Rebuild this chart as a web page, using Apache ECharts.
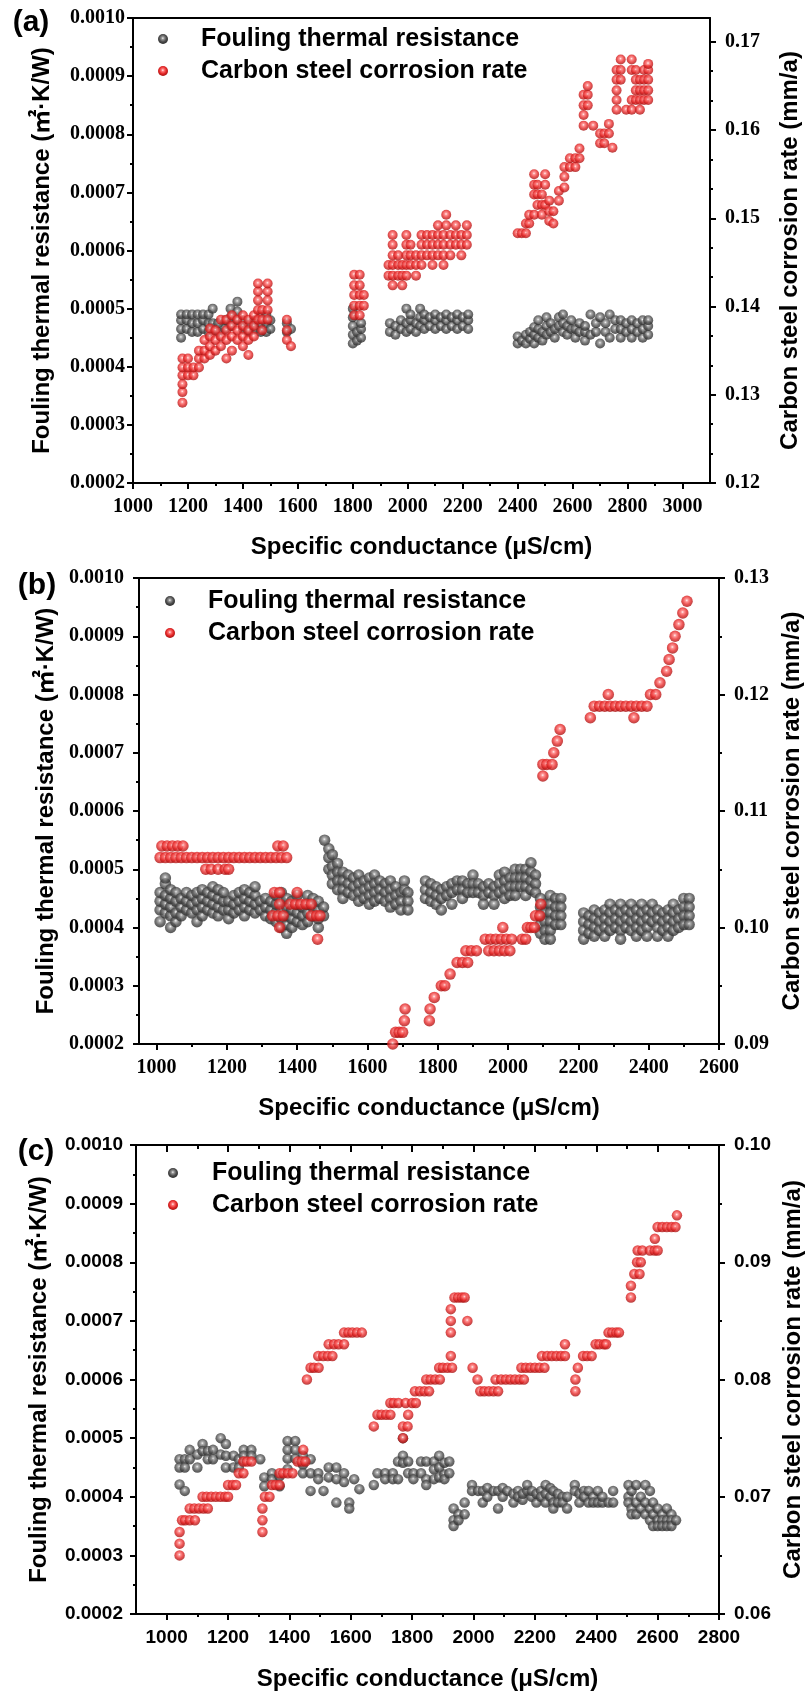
<!DOCTYPE html>
<html>
<head>
<meta charset="utf-8">
<title>Fouling thermal resistance and corrosion rate vs specific conductance</title>
<script src="https://cdn.jsdelivr.net/npm/echarts@6/dist/echarts.min.js"></script>
<style>
  html, body { margin: 0; padding: 0; background: #fff; }
  #main { width: 805px; height: 1695px; }
</style>
</head>
<body>
<div id="main"></div>
<script>
// ---------- tick labels ----------
const xMajorA = [1000, 1200, 1400, 1600, 1800, 2000, 2200, 2400, 2600, 2800, 3000];
const xMinorA = [1100, 1300, 1500, 1700, 1900, 2100, 2300, 2500, 2700, 2900];
const xMajorB = [1000, 1200, 1400, 1600, 1800, 2000, 2200, 2400, 2600];
const xMinorB = [1100, 1300, 1500, 1700, 1900, 2100, 2300, 2500];
const xMajorC = [1000, 1200, 1400, 1600, 1800, 2000, 2200, 2400, 2600, 2800];
const xMinorC = [1100, 1300, 1500, 1700, 1900, 2100, 2300, 2500, 2700];
const leftMajor = [0.0002, 0.0003, 0.0004, 0.0005, 0.0006, 0.0007, 0.0008, 0.0009, 0.0010];
const leftMinor = [0.00025, 0.00035, 0.00045, 0.00055, 0.00065, 0.00075, 0.00085, 0.00095];
const rightMajorA = [0.12, 0.13, 0.14, 0.15, 0.16, 0.17];
const rightMinorA = [0.12333, 0.12667, 0.13333, 0.13667, 0.14333, 0.14667, 0.15333, 0.15667, 0.16333, 0.16667];
const rightMajorB = [0.09, 0.10, 0.11, 0.12, 0.13];
const rightMinorB = [0.095, 0.105, 0.115, 0.125];
const rightMajorC = [0.06, 0.07, 0.08, 0.09, 0.10];
const rightMinorC = [0.065, 0.075, 0.085, 0.095];

// ---------- data (a) : columns [conductance, [values]] ----------
const foulA = [
  [1175, [0.00045, 0.000465, 0.00048, 0.00049]], [1195, [0.000465, 0.00048, 0.00049]],
  [1215, [0.00046, 0.000475, 0.00049]], [1235, [0.00046, 0.000475, 0.00049]],
  [1255, [0.000465, 0.00048, 0.00049]], [1275, [0.00046, 0.000475, 0.00049]],
  [1290, [0.000475, 0.0005]], [1310, [0.00046, 0.000475]], [1335, [0.000465, 0.00048]],
  [1355, [0.00047, 0.000485, 0.0005]], [1380, [0.00048, 0.000495, 0.000512]],
  [1400, [0.000465, 0.00048]], [1420, [0.00046, 0.000475]], [1445, [0.000465, 0.00048]],
  [1465, [0.00046, 0.000475, 0.00049]], [1485, [0.00046, 0.000475, 0.00049]],
  [1500, [0.000465, 0.00048]], [1560, [0.00046, 0.000475]], [1575, [0.000465]],
  [1800, [0.00044, 0.000455, 0.00047, 0.000485, 0.0005]], [1815, [0.000445, 0.00046]],
  [1830, [0.00045, 0.000465, 0.000475]],
  [1935, [0.00046, 0.000475]], [1955, [0.000455, 0.00047]], [1975, [0.000465, 0.00048]],
  [1995, [0.00046, 0.000475, 0.0005]], [2010, [0.000465, 0.00048, 0.00049]],
  [2030, [0.00046, 0.000475]], [2045, [0.00047, 0.000485, 0.0005]],
  [2060, [0.000465, 0.00048, 0.00049]], [2080, [0.00047, 0.000485]],
  [2100, [0.000465, 0.00048, 0.00049]], [2120, [0.00047, 0.000485]],
  [2140, [0.000465, 0.00048, 0.00049]], [2160, [0.00047, 0.000485]],
  [2180, [0.000465, 0.00048, 0.00049]], [2200, [0.00047, 0.000485]],
  [2220, [0.000465, 0.00048, 0.00049]],
  [2400, [0.00044, 0.000452]], [2415, [0.000445]], [2430, [0.00044, 0.000455]],
  [2445, [0.000448, 0.00046]], [2460, [0.00044, 0.000455, 0.000468]],
  [2475, [0.00045, 0.000465, 0.00048]], [2490, [0.000445, 0.00046]],
  [2505, [0.000455, 0.00047, 0.000485]], [2520, [0.00046, 0.000475]],
  [2535, [0.00045, 0.000465]], [2550, [0.00047, 0.000485]],
  [2565, [0.00046, 0.000475, 0.00049]], [2580, [0.000455, 0.00047]],
  [2595, [0.000465, 0.00048]], [2610, [0.00045, 0.000465]], [2625, [0.00046, 0.000475]],
  [2645, [0.000445, 0.00046, 0.00047]], [2665, [0.000455, 0.00049]],
  [2685, [0.00046, 0.000475]], [2700, [0.00044, 0.000485]], [2720, [0.00046, 0.000475]],
  [2735, [0.00045, 0.00049]], [2755, [0.000465, 0.00048]],
  [2775, [0.00045, 0.000465, 0.00048]], [2795, [0.00046, 0.000475]],
  [2815, [0.00045, 0.000465, 0.00048]], [2835, [0.00046, 0.000475]],
  [2855, [0.00045, 0.000465, 0.00048]], [2875, [0.000455, 0.00047, 0.00048]]
];
const corrA = [
  [1180, [0.1291, 0.1303, 0.1312, 0.1322, 0.1331, 0.1341]], [1200, [0.1322, 0.1331, 0.1341]],
  [1220, [0.1322, 0.1331]], [1240, [0.1331, 0.1341, 0.135]], [1260, [0.1341, 0.135, 0.1362]],
  [1280, [0.1345, 0.1355, 0.1366, 0.1375]], [1300, [0.135, 0.1362, 0.1373]],
  [1320, [0.1355, 0.1366, 0.1385]], [1340, [0.1341, 0.1362, 0.1373, 0.1385]],
  [1360, [0.135, 0.1366, 0.1378, 0.139]], [1380, [0.1362, 0.1373, 0.1385]],
  [1400, [0.1355, 0.1366, 0.1378, 0.139]], [1420, [0.1345, 0.1362, 0.1373, 0.1385]],
  [1440, [0.1366, 0.1378, 0.139]], [1455, [0.1385, 0.1396, 0.1407, 0.1417, 0.1426]],
  [1470, [0.1373, 0.1385, 0.1396]], [1490, [0.1385, 0.1396, 0.1407, 0.1417, 0.1426]],
  [1560, [0.1362, 0.1373, 0.1385]], [1575, [0.1355]],
  [1805, [0.139, 0.1401, 0.1413, 0.1424, 0.1436]], [1825, [0.139, 0.1401, 0.1413, 0.1424, 0.1436]],
  [1840, [0.1401, 0.1413]],
  [1930, [0.1435, 0.1447]], [1945, [0.1424, 0.1435, 0.1447, 0.1458, 0.147, 0.1481]],
  [1965, [0.1435, 0.1447, 0.1458]], [1980, [0.1424, 0.1435, 0.1447]],
  [1995, [0.1435, 0.1447, 0.1458, 0.147, 0.1481]], [2010, [0.1447, 0.1458, 0.147]],
  [2030, [0.1435, 0.1447, 0.1458]], [2050, [0.1447, 0.1458, 0.147, 0.1481]],
  [2070, [0.1458, 0.147, 0.1481]], [2090, [0.1447, 0.1458, 0.147, 0.1481]],
  [2110, [0.1458, 0.147, 0.1481, 0.1492]], [2130, [0.1447, 0.1458, 0.147, 0.1481]],
  [2140, [0.1492, 0.1504]], [2155, [0.1458, 0.147, 0.1481]], [2175, [0.147, 0.1481, 0.1492]],
  [2195, [0.1458, 0.147, 0.1481]], [2215, [0.147, 0.1481, 0.1492]],
  [2400, [0.1483]], [2415, [0.1483]], [2430, [0.1483, 0.1494]], [2442, [0.1494, 0.1504]],
  [2460, [0.1504, 0.1527, 0.1538, 0.155]], [2472, [0.1515, 0.1527, 0.1538]],
  [2488, [0.1504, 0.1515, 0.1527]], [2500, [0.1515, 0.1538, 0.155]],
  [2515, [0.1497, 0.1508, 0.152]], [2530, [0.1494, 0.1508]], [2550, [0.152, 0.1531]],
  [2570, [0.1535, 0.1547, 0.1558]], [2590, [0.1558, 0.1568]], [2610, [0.1558, 0.1568]],
  [2625, [0.1568, 0.1579]], [2640, [0.1605, 0.1617, 0.1628, 0.164]],
  [2655, [0.1628, 0.164, 0.165]], [2675, [0.1605]], [2700, [0.1585, 0.1596]],
  [2715, [0.1596, 0.1585]], [2732, [0.1596, 0.1607]], [2745, [0.158]],
  [2760, [0.1623, 0.1634, 0.1645, 0.1657, 0.1668]], [2775, [0.1657, 0.1668, 0.168]],
  [2795, [0.1623]], [2815, [0.1623, 0.1634, 0.1668, 0.168]],
  [2830, [0.1634, 0.1645, 0.1657, 0.1668]], [2845, [0.1623, 0.1634, 0.1645, 0.1657]],
  [2860, [0.1634, 0.1645, 0.1657, 0.1668]], [2875, [0.1634, 0.1645, 0.1657, 0.1668, 0.1675]]
];

// ---------- data (b) ----------
const foulB = [
  [1010, [0.00041, 0.00043, 0.000445, 0.00046]], [1025, [0.000425, 0.00044, 0.000455, 0.000475, 0.000485]],
  [1040, [0.0004, 0.00042, 0.000435, 0.00045, 0.000465]], [1055, [0.00041, 0.000425, 0.000445, 0.00046]],
  [1070, [0.00042, 0.000435, 0.00045]], [1085, [0.00043, 0.000445, 0.00046]],
  [1100, [0.000425, 0.00044, 0.000455]], [1115, [0.00041, 0.00043, 0.000445, 0.00046]],
  [1130, [0.00042, 0.000435, 0.00045, 0.000465]], [1145, [0.00043, 0.000445, 0.00046]],
  [1160, [0.000425, 0.00044, 0.000455, 0.00047]], [1175, [0.00042, 0.000435, 0.00045, 0.000465]],
  [1190, [0.00043, 0.000445, 0.00046]], [1205, [0.000415, 0.00043, 0.000445]],
  [1220, [0.000425, 0.00044, 0.000455]], [1235, [0.00043, 0.000445, 0.00046]],
  [1250, [0.00042, 0.000435, 0.00045, 0.000465]], [1265, [0.00043, 0.000445, 0.00046]],
  [1280, [0.000425, 0.00044, 0.000455, 0.00047]], [1295, [0.00043, 0.000445]],
  [1310, [0.00042, 0.000435, 0.00045]], [1325, [0.000415, 0.00043, 0.000445]],
  [1340, [0.00041, 0.000425, 0.00044, 0.000455]], [1355, [0.0004, 0.000415, 0.00043, 0.000445, 0.00046]],
  [1370, [0.00039, 0.000405, 0.00042, 0.000435, 0.00045]], [1385, [0.0004, 0.000415, 0.00043, 0.000445]],
  [1400, [0.00041, 0.000425, 0.00044, 0.000455]], [1415, [0.000405, 0.00042, 0.000435]],
  [1430, [0.00041, 0.000425, 0.00044, 0.000455]], [1445, [0.00042, 0.000435, 0.00045]],
  [1460, [0.0004, 0.000415, 0.00043, 0.000445]], [1475, [0.00042, 0.000435]],
  [1478, [0.00055]], [1490, [0.000535, 0.00052, 0.0005]],
  [1500, [0.000525, 0.000505, 0.00049, 0.000475]], [1515, [0.00051, 0.000495, 0.00048, 0.000465]],
  [1530, [0.000495, 0.00048, 0.000465, 0.00045]], [1545, [0.00049, 0.000475, 0.00046]],
  [1560, [0.000485, 0.00047, 0.000455]], [1575, [0.00049, 0.000475, 0.00046, 0.000445]],
  [1590, [0.00048, 0.000465, 0.00045]], [1605, [0.000485, 0.00047, 0.000455, 0.00044]],
  [1620, [0.00049, 0.000475, 0.00046, 0.000445]], [1635, [0.00048, 0.000465, 0.00045]],
  [1650, [0.000475, 0.00046, 0.000445]], [1665, [0.00048, 0.000465, 0.00045, 0.000435]],
  [1680, [0.00047, 0.000455, 0.00044]], [1695, [0.00046, 0.000445, 0.00043]],
  [1705, [0.00048, 0.000465]], [1715, [0.00046, 0.000445, 0.00043]],
  [1765, [0.00048, 0.000465, 0.00045]], [1780, [0.000475, 0.00046, 0.000445]],
  [1795, [0.00047, 0.000455, 0.00044]], [1810, [0.000465, 0.00045, 0.00043]],
  [1825, [0.00047, 0.000455]], [1840, [0.000475, 0.00046, 0.00044]], [1855, [0.00048, 0.000465]],
  [1870, [0.00048, 0.000465, 0.00045]], [1885, [0.000475, 0.00046]],
  [1900, [0.00049, 0.000475, 0.00046]], [1915, [0.000475, 0.00046]],
  [1930, [0.00047, 0.000455, 0.00044]], [1945, [0.000475, 0.00046]],
  [1960, [0.00047, 0.000455, 0.00044]], [1975, [0.00049, 0.000475, 0.00046]],
  [1990, [0.000495, 0.00048, 0.000465, 0.00045]], [2005, [0.000485, 0.00047, 0.000455]],
  [2020, [0.0005, 0.000485, 0.00047, 0.000455]], [2035, [0.0005, 0.000485, 0.00047]],
  [2050, [0.0005, 0.000485, 0.00047, 0.000455]], [2065, [0.000511, 0.000495, 0.00048, 0.000465]],
  [2078, [0.00049, 0.000475, 0.00046]],
  [2092, [0.00045, 0.000435, 0.00042, 0.000405, 0.00039]],
  [2105, [0.00044, 0.000425, 0.00041, 0.000395, 0.00038]],
  [2120, [0.000455, 0.00044, 0.000425, 0.00041, 0.000395, 0.00038]],
  [2135, [0.00045, 0.000435, 0.00042, 0.000405]], [2150, [0.00045, 0.000435, 0.00042, 0.000405]],
  [2215, [0.000425, 0.00041, 0.000395, 0.00038]], [2230, [0.00042, 0.000405, 0.00039]],
  [2245, [0.00043, 0.000415, 0.0004, 0.000385]], [2260, [0.000425, 0.00041, 0.000395]],
  [2275, [0.00043, 0.000415, 0.0004, 0.000385]], [2290, [0.00044, 0.000425, 0.00041, 0.000395]],
  [2305, [0.00043, 0.000415, 0.0004]], [2320, [0.00044, 0.000425, 0.00041, 0.000395, 0.00038]],
  [2335, [0.00043, 0.000415, 0.0004]], [2350, [0.00044, 0.000425, 0.00041, 0.000395]],
  [2365, [0.00043, 0.000415, 0.0004, 0.000385]], [2380, [0.00044, 0.000425, 0.00041, 0.000395]],
  [2395, [0.00043, 0.000415, 0.0004, 0.000385]], [2410, [0.00044, 0.000425, 0.00041]],
  [2425, [0.00043, 0.000415, 0.0004, 0.000385]], [2440, [0.000425, 0.00041, 0.000395]],
  [2455, [0.00043, 0.000415, 0.0004, 0.000385]], [2470, [0.00044, 0.000425, 0.00041, 0.000395]],
  [2485, [0.00043, 0.000415, 0.0004]], [2500, [0.00045, 0.000435, 0.00042, 0.000405]],
  [2515, [0.00045, 0.000435, 0.00042, 0.000405]]
];
// rows [corrosion rate, [conductances]]
const corrB = [
  [0.107, [1015, 1030, 1045, 1060, 1075, 1345, 1360]],
  [0.106, [1010, 1025, 1040, 1055, 1070, 1085, 1100, 1115, 1130, 1145, 1160, 1175, 1190, 1205,
           1220, 1235, 1250, 1265, 1280, 1295, 1310, 1325, 1340, 1355, 1370]],
  [0.105, [1140, 1155, 1175, 1195, 1205]],
  [0.103, [1335, 1350, 1400]],
  [0.102, [1350, 1380, 1395, 1410, 1425, 1440]],
  [0.101, [1330, 1345, 1360, 1440, 1455, 1465]],
  [0.100, [1350, 1985, 2055, 2065, 2075]],
  [0.099, [1458, 1935, 1950, 1965, 1980, 1995, 2010, 2040, 2050]],
  [0.098, [1880, 1895, 1910, 1945, 1960, 1975, 1990, 2005]],
  [0.097, [1855, 1870, 1885]],
  [0.096, [1835]],
  [0.095, [1810, 1820]],
  [0.094, [1790]],
  [0.093, [1707, 1778]],
  [0.092, [1705, 1776]],
  [0.091, [1680, 1690, 1700]],
  [0.090, [1672]],
  [0.101, [2078, 2090]],
  [0.102, [2093]],
  [0.113, [2099]],
  [0.114, [2099, 2110, 2125]],
  [0.115, [2130]],
  [0.116, [2140]],
  [0.117, [2148]],
  [0.118, [2234, 2358]],
  [0.119, [2245, 2260, 2275, 2290, 2305, 2320, 2335, 2350, 2365, 2380, 2395]],
  [0.120, [2285, 2405, 2420]],
  [0.121, [2432]],
  [0.122, [2451]],
  [0.123, [2458]],
  [0.124, [2468]],
  [0.125, [2475]],
  [0.126, [2486]],
  [0.127, [2497]],
  [0.128, [2509]]
];

// ---------- data (c) ----------
const foulC = [
  [1042, [0.000464, 0.00045, 0.000421]], [1059, [0.000464, 0.00045, 0.00041]],
  [1075, [0.00048, 0.000464]], [1100, [0.000472, 0.00045]], [1117, [0.00049, 0.000478]],
  [1134, [0.000478, 0.000464]], [1151, [0.00048, 0.000464]], [1176, [0.0005, 0.000472]],
  [1193, [0.00049, 0.00047, 0.00045]], [1218, [0.00047, 0.00045]], [1235, [0.000464, 0.00045]],
  [1251, [0.00048, 0.00047]], [1276, [0.00048, 0.00047]], [1305, [0.000464]],
  [1318, [0.000433, 0.000418]], [1343, [0.00044, 0.00043]], [1368, [0.000435, 0.000418]],
  [1394, [0.000495, 0.00048, 0.000465, 0.000447]], [1419, [0.000495, 0.00048, 0.000465]],
  [1444, [0.00047, 0.000455, 0.00044]], [1469, [0.000464, 0.00044, 0.00041]],
  [1494, [0.00044, 0.00043]], [1511, [0.00041]], [1528, [0.00045, 0.000433]],
  [1553, [0.00045, 0.00043, 0.00039]], [1578, [0.00044, 0.000425]], [1595, [0.00039, 0.00038]],
  [1611, [0.00043]], [1628, [0.000413]],
  [1675, [0.00042]], [1687, [0.00044]], [1712, [0.00044, 0.00043]], [1737, [0.00044, 0.00043]],
  [1754, [0.00046, 0.00043]], [1770, [0.0005, 0.00047, 0.000458]], [1787, [0.00046, 0.00044]],
  [1804, [0.00044, 0.00043]], [1829, [0.00046, 0.00044]], [1846, [0.00046, 0.00043, 0.00042]],
  [1871, [0.00046, 0.000447, 0.00043]], [1888, [0.00047, 0.00045, 0.000433]],
  [1905, [0.000458, 0.000438, 0.00043]], [1921, [0.00046, 0.00044]],
  [1935, [0.00038, 0.00036, 0.00035]], [1951, [0.00037, 0.00036]], [1971, [0.00039, 0.00037]],
  [1995, [0.00042, 0.00041]], [2015, [0.00041]], [2030, [0.00041, 0.00039]],
  [2045, [0.000415, 0.0004]], [2065, [0.00041]], [2080, [0.00041, 0.00038]],
  [2095, [0.000415, 0.0004]], [2110, [0.00041]], [2130, [0.000405, 0.00039]],
  [2145, [0.00041, 0.0004]], [2160, [0.000395, 0.000405]], [2175, [0.00041, 0.00042]],
  [2190, [0.0004, 0.00041]], [2205, [0.00039, 0.000405]], [2220, [0.00041, 0.0004]],
  [2235, [0.00042, 0.000405, 0.00039]], [2250, [0.000415, 0.0004]],
  [2260, [0.00041, 0.00039, 0.00038]], [2275, [0.000405, 0.00039]], [2290, [0.0004, 0.00039]],
  [2305, [0.0004, 0.00038]], [2330, [0.00042, 0.00041]], [2345, [0.000405, 0.00039]],
  [2360, [0.00041, 0.0004]], [2375, [0.00041, 0.00039]], [2390, [0.0004, 0.00039]],
  [2405, [0.00041, 0.00039]], [2420, [0.00039, 0.0004]], [2440, [0.00039]], [2455, [0.00041, 0.00039]],
  [2505, [0.00042, 0.0004, 0.00039]], [2515, [0.00041, 0.00038, 0.00037]],
  [2530, [0.00042, 0.00039, 0.00037]], [2545, [0.0004, 0.00038]],
  [2560, [0.00042, 0.00039, 0.00037]], [2575, [0.00041, 0.00038, 0.00036]],
  [2585, [0.00039, 0.00037, 0.00035]], [2600, [0.00038, 0.00036, 0.00035]],
  [2615, [0.00037, 0.00036, 0.00035]], [2630, [0.00038, 0.00036, 0.00035]],
  [2645, [0.00037, 0.00036, 0.00035]], [2660, [0.00036]]
];
const corrC = [
  [0.065, [1042]], [0.066, [1042]], [0.067, [1042, 1312]],
  [0.068, [1050, 1060, 1075, 1092, 1312]],
  [0.069, [1075, 1090, 1105, 1120, 1134, 1312]],
  [0.070, [1117, 1130, 1145, 1160, 1175, 1190, 1200, 1320, 1335]],
  [0.071, [1200, 1215, 1226, 1343, 1355, 1368]],
  [0.072, [1235, 1250, 1368, 1380, 1395, 1410]],
  [0.073, [1250, 1262, 1276, 1427, 1440, 1452]],
  [0.074, [1445]], [0.075, [1770]],
  [0.076, [1675, 1770, 1785]],
  [0.077, [1687, 1700, 1715, 1729, 1787]],
  [0.078, [1729, 1740, 1755, 1779, 1800, 1812]],
  [0.079, [1809, 1825, 1840, 1855, 2022, 2035, 2050, 2065, 2080, 2332]],
  [0.080, [1457, 1846, 1860, 1875, 1890, 2013, 2072, 2090, 2105, 2120, 2135, 2150, 2164, 2332]],
  [0.081, [1469, 1480, 1495, 1888, 1900, 1915, 1930, 1997, 2156, 2170, 2185, 2200, 2215, 2231, 2340]],
  [0.082, [1494, 1510, 1525, 1540, 1926, 2223, 2240, 2255, 2270, 2285, 2298, 2357, 2370, 2385]],
  [0.083, [1528, 1545, 1560, 1578, 2298, 2398, 2410, 2425, 2432]],
  [0.084, [1578, 1592, 1605, 1620, 1636, 1926, 2440, 2452, 2465, 2474]],
  [0.085, [1926, 1980]], [0.086, [1926]],
  [0.087, [1938, 1950, 1962, 1971, 2513]], [0.088, [2513]],
  [0.089, [2524, 2541]], [0.090, [2533, 2545]],
  [0.091, [2535, 2550, 2575, 2590, 2600]], [0.092, [2591]],
  [0.093, [2600, 2615, 2630, 2645, 2658]], [0.094, [2663]]
];

// ---------- helpers ----------
const fromColumns = cols => cols.flatMap(([x, ys]) => ys.map(y => [x, y]));
const fromRows = rows => rows.flatMap(([y, xs]) => xs.map(x => [x, y]));

const grayBall = {
  type: 'radial', x: 0.48, y: 0.42, r: 0.58,
  colorStops: [
    { offset: 0, color: '#f4f4f4' },
    { offset: 0.22, color: '#9a9a9a' },
    { offset: 0.6, color: '#505050' },
    { offset: 1, color: '#2a2a2a' }
  ]
};
const redBall = {
  type: 'radial', x: 0.48, y: 0.42, r: 0.58,
  colorStops: [
    { offset: 0, color: '#fff4f4' },
    { offset: 0.22, color: '#ff7b7b' },
    { offset: 0.6, color: '#e62a2a' },
    { offset: 1, color: '#a51010' }
  ]
};

const SANS = '"Liberation Sans", Arial, "Noto Sans CJK SC", sans-serif';
const SERIF = '"Liberation Serif", "Times New Roman", serif';

const panels = [
  { tag: '(a)', tagPos: [31, 23],
    grid: { left: 133, top: 18, width: 577, height: 465 },
    xMin: 1000, xMax: 3100, xMajor: xMajorA, xMinor: xMinorA,
    rMin: 0.12, rMax: 0.1727, rMajor: rightMajorA, rMinor: rightMinorA,
    font: SERIF, fontSize: 20, leftMargin: 8, topTicks: false, size: 10,
    foul: fromColumns(foulA), corr: fromColumns(corrA),
    legend: [163, 39, 201], xTitleY: 547, leftTitleX: 42, rightTitleX: 790 },
  { tag: '(b)', tagPos: [37, 586],
    grid: { left: 139, top: 578, width: 580, height: 466 },
    xMin: 950, xMax: 2600, xMajor: xMajorB, xMinor: xMinorB,
    rMin: 0.09, rMax: 0.13, rMajor: rightMajorB, rMinor: rightMinorB,
    font: SERIF, fontSize: 20, leftMargin: 15, topTicks: false, size: 11.5,
    foul: fromColumns(foulB), corr: fromRows(corrB),
    legend: [170, 601, 208], xTitleY: 1108, leftTitleX: 46, rightTitleX: 792 },
  { tag: '(c)', tagPos: [36, 1152],
    grid: { left: 136, top: 1145, width: 583, height: 469 },
    xMin: 900, xMax: 2800, xMajor: xMajorC, xMinor: xMinorC,
    rMin: 0.06, rMax: 0.10, rMajor: rightMajorC, rMinor: rightMinorC,
    font: SANS, fontSize: 19, leftMargin: 13, topTicks: true, size: 10.5,
    foul: fromColumns(foulC), corr: fromRows(corrC),
    legend: [173, 1173, 212], xTitleY: 1679, leftTitleX: 39, rightTitleX: 793 }
];

const option = { animation: false, grid: [], xAxis: [], yAxis: [], series: [], graphic: [] };
const black = { color: '#000', width: 2 };

panels.forEach((p, i) => {
  option.grid.push(Object.assign({ containLabel: false, outerBoundsMode: 'none' }, p.grid));
  const lab = { fontFamily: p.font, fontWeight: 'bold', fontSize: p.fontSize, color: '#000' };
  const xi = option.xAxis.length;
  const yi = option.yAxis.length;
  const xBase = { gridIndex: i, type: 'value', min: p.xMin, max: p.xMax, splitLine: { show: false } };

  // bottom axis: labels + major ticks, then minor ticks
  option.xAxis.push(Object.assign({}, xBase, {
    position: 'bottom',
    axisLine: { onZero: false, lineStyle: black },
    axisTick: { length: 6, lineStyle: black, customValues: p.xMajor },
    axisLabel: Object.assign({ margin: 14, customValues: p.xMajor, formatter: v => String(v) }, lab)
  }));
  option.xAxis.push(Object.assign({}, xBase, {
    position: 'bottom',
    axisLine: { show: false, onZero: false },
    axisTick: { length: 3, lineStyle: black, customValues: p.xMinor },
    axisLabel: { show: false }
  }));
  // top frame line (ticks inside only on panel c)
  option.xAxis.push(Object.assign({}, xBase, {
    position: 'top',
    axisLine: { onZero: false, lineStyle: black },
    axisTick: { show: p.topTicks, inside: true, length: 7, lineStyle: black, customValues: p.xMajor },
    axisLabel: { show: false }
  }));
  option.xAxis.push(Object.assign({}, xBase, {
    position: 'top',
    axisLine: { show: false, onZero: false },
    axisTick: { show: p.topTicks, inside: true, length: 4, lineStyle: black, customValues: p.xMinor },
    axisLabel: { show: false }
  }));

  // left axis
  const yLeft = { gridIndex: i, type: 'value', min: 0.0002, max: 0.0010, splitLine: { show: false } };
  option.yAxis.push(Object.assign({}, yLeft, {
    position: 'left',
    axisLine: { onZero: false, lineStyle: black },
    axisTick: { length: 6, lineStyle: black, customValues: leftMajor },
    axisLabel: Object.assign({ margin: p.leftMargin, customValues: leftMajor, formatter: v => v.toFixed(4) }, lab)
  }));
  option.yAxis.push(Object.assign({}, yLeft, {
    position: 'left',
    axisLine: { show: false, onZero: false },
    axisTick: { length: 3, lineStyle: black, customValues: leftMinor },
    axisLabel: { show: false }
  }));
  // right axis
  const yRight = { gridIndex: i, type: 'value', min: p.rMin, max: p.rMax, splitLine: { show: false } };
  option.yAxis.push(Object.assign({}, yRight, {
    position: 'right',
    axisLine: { onZero: false, lineStyle: black },
    axisTick: { length: 6, lineStyle: black, customValues: p.rMajor },
    axisLabel: Object.assign({ margin: 15, customValues: p.rMajor, formatter: v => v.toFixed(2) }, lab)
  }));
  option.yAxis.push(Object.assign({}, yRight, {
    position: 'right',
    axisLine: { show: false, onZero: false },
    axisTick: { length: 3, lineStyle: black, customValues: p.rMinor },
    axisLabel: { show: false }
  }));

  option.series.push({
    name: 'Fouling thermal resistance', type: 'scatter',
    xAxisIndex: xi, yAxisIndex: yi,
    symbolSize: p.size, itemStyle: { color: grayBall },
    data: p.foul
  });
  option.series.push({
    name: 'Carbon steel corrosion rate', type: 'scatter',
    xAxisIndex: xi, yAxisIndex: yi + 2,
    symbolSize: p.size, itemStyle: { color: redBall },
    data: p.corr
  });

  // panel tag, legend and titles
  const cx = p.grid.left + p.grid.width / 2;
  const cy = p.grid.top + p.grid.height / 2;
  const txt = (x, y, text, size, extra) => Object.assign({
    type: 'text', x: x, y: y, silent: true,
    style: { text: text, fontFamily: SANS, fontWeight: 'bold', fontSize: size, fill: '#000',
             align: 'center', verticalAlign: 'middle' }
  }, extra || {});
  option.graphic.push(txt(p.tagPos[0], p.tagPos[1], p.tag, 30));
  option.graphic.push(txt(cx, p.xTitleY, 'Specific conductance (μS/cm)', 24));
  option.graphic.push(txt(p.leftTitleX, cy, 'Fouling thermal resistance (㎡·K/W)', 24, { rotation: Math.PI / 2 }));
  option.graphic.push(txt(p.rightTitleX, cy, 'Carbon steel corrosion rate (mm/a)', 24, { rotation: Math.PI / 2 }));

  const [lx, ly, tx] = p.legend;
  [['Fouling thermal resistance', grayBall], ['Carbon steel corrosion rate', redBall]].forEach((it, k) => {
    const y = ly + k * 32;
    option.graphic.push({ type: 'circle', silent: true, shape: { cx: lx, cy: y, r: 5 }, style: { fill: it[1] } });
    const t = txt(tx, y, it[0], 25);
    t.style.align = 'left';
    option.graphic.push(t);
  });
});

const chart = echarts.init(document.getElementById('main'));
chart.setOption(option);
</script>
</body>
</html>
